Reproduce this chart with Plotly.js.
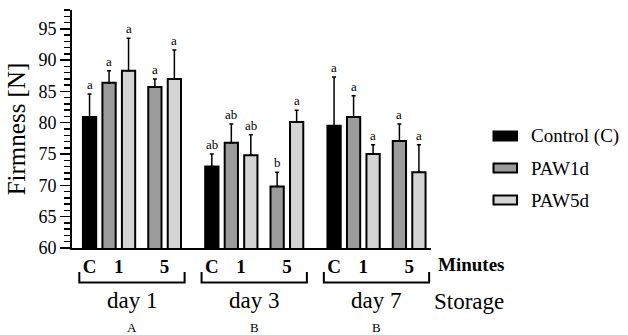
<!DOCTYPE html>
<html>
<head>
<meta charset="utf-8">
<script src="https://cdn.plot.ly/plotly-3.0.1.min.js"></script>
<style>html,body{margin:0;padding:0;background:#fff;}#chart{width:628px;height:335px;}</style>
</head>
<body>
<div id="chart"></div>
<script>
// ---- data ----
const days = ['day 1', 'day 3', 'day 7'];
const dayLetters = ['A', 'B', 'B'];
const minuteLabels = ['C', '1', '5'];
const seriesNames = ['Control (C)', 'PAW1d', 'PAW5d'];

const control      = [80.9, 73.0, 79.5];
const controlErr   = [3.7, 2.0, 7.8];
const controlSig   = ['a', 'ab', 'a'];

const paw1d_min1    = [86.4, 76.8, 80.9];
const paw1d_min1Err = [1.9, 3.0, 3.4];
const paw1d_min1Sig = ['a', 'ab', 'a'];

const paw5d_min1    = [88.3, 74.8, 75.0];
const paw5d_min1Err = [5.2, 3.3, 1.5];
const paw5d_min1Sig = ['a', 'ab', 'a'];

const paw1d_min5    = [85.7, 69.8, 77.1];
const paw1d_min5Err = [1.3, 2.3, 2.7];
const paw1d_min5Sig = ['a', 'b', 'a'];

const paw5d_min5    = [87.0, 80.1, 72.1];
const paw5d_min5Err = [4.6, 1.9, 4.4];
const paw5d_min5Sig = ['a', 'a', 'a'];

const yTickVals = [60, 65, 70, 75, 80, 85, 90, 95];

// ---- layout helpers ----
const DAY_STEP = 6.27;           // x units between day groups
const SLOT = {C: 0, m1a: 1, m1b: 2, m5a: 3.35, m5b: 4.35};
const BAR_W = 0.68;
const colors = ['#000000', '#9b9b9b', '#d4d4d4'];
const FONT = '"Liberation Serif", "Times New Roman", serif';

const L = 72, R = 431, T = 10, B = 248;
const px = v => (v - L) / (R - L);
const py = v => (B - v) / (B - T);

function xs(slot) { return days.map((d, i) => i * DAY_STEP + slot); }
function interleave(a, b) { const o = []; a.forEach((v, i) => { o.push(v); o.push(b[i]); }); return o; }

const ctrlX = xs(SLOT.C);
const p1X = interleave(xs(SLOT.m1a), xs(SLOT.m5a));
const p5X = interleave(xs(SLOT.m1b), xs(SLOT.m5b));
const p1Y = interleave(paw1d_min1, paw1d_min5);
const p5Y = interleave(paw5d_min1, paw5d_min5);
const p1E = interleave(paw1d_min1Err, paw1d_min5Err);
const p5E = interleave(paw5d_min1Err, paw5d_min5Err);
const p1S = interleave(paw1d_min1Sig, paw1d_min5Sig);
const p5S = interleave(paw5d_min1Sig, paw5d_min5Sig);

function barTrace(name, x, y, err, color) {
  return {
    type: 'bar', name: name, x: x, y: y, width: BAR_W,
    marker: {color: color, line: {color: '#000', width: 2}},
    error_y: {type: 'data', symmetric: false, array: err, arrayminus: err.map(() => 0),
              color: '#000', thickness: 1.5, width: 2},
    showlegend: false, hoverinfo: 'x+y'
  };
}

const traces = [
  barTrace(seriesNames[0], ctrlX, control, controlErr, colors[0]),
  barTrace(seriesNames[1], p1X, p1Y, p1E, colors[1]),
  barTrace(seriesNames[2], p5X, p5Y, p5E, colors[2])
];

const annotations = [];
const shapes = [];

// significance letters
[[ctrlX, control, controlErr, controlSig], [p1X, p1Y, p1E, p1S], [p5X, p5Y, p5E, p5S]].forEach(([x, y, e, s]) => {
  x.forEach((xv, i) => {
    annotations.push({x: xv, y: y[i] + e[i], xref: 'x', yref: 'y', text: s[i], showarrow: false,
      xanchor: 'center', yanchor: 'bottom', yshift: 0, font: {family: FONT, size: 13, color: '#000'}});
  });
});

// x tick labels (minutes)
const tickVals = [], tickText = [];
days.forEach((d, i) => {
  const o = i * DAY_STEP;
  tickVals.push(o + SLOT.C, o + (SLOT.m1a + SLOT.m1b) / 2, o + (SLOT.m5a + SLOT.m5b) / 2);
  tickText.push(...minuteLabels);
});

// brackets, day labels, letters
days.forEach((d, i) => {
  const c = i * DAY_STEP + (SLOT.C + SLOT.m5b) / 2;
  const x0 = c - 2.7, x1 = c + 2.7;
  const yl = py(282.5), yt = py(272);
  shapes.push({type: 'path', xref: 'x', yref: 'paper',
    path: `M${x0},${yt} L${x0},${yl} L${x1},${yl} L${x1},${yt}`,
    line: {color: '#000', width: 2}});
  annotations.push({x: c, y: py(300), xref: 'x', yref: 'paper', text: d, showarrow: false,
    xanchor: 'center', yanchor: 'middle', font: {family: FONT, size: 23, color: '#000'}});
  annotations.push({x: c, y: py(327), xref: 'x', yref: 'paper', text: dayLetters[i], showarrow: false,
    xanchor: 'center', yanchor: 'middle', font: {family: FONT, size: 13, color: '#000'}});
});

annotations.push({x: px(436), y: py(264), xref: 'paper', yref: 'paper', text: 'Minutes', showarrow: false,
  xanchor: 'left', yanchor: 'middle', font: {family: FONT, size: 19, color: '#000', weight: 'bold'}});
annotations.push({x: px(432), y: py(301), xref: 'paper', yref: 'paper', text: 'Storage', showarrow: false,
  xanchor: 'left', yanchor: 'middle', font: {family: FONT, size: 23, color: '#000'}});

// custom legend
const legY = [136, 168, 200];
seriesNames.forEach((n, i) => {
  shapes.push({type: 'rect', xref: 'paper', yref: 'paper',
    x0: px(493.5), x1: px(517), y0: py(legY[i] - 4.5), y1: py(legY[i] + 4.5),
    fillcolor: colors[i], line: {color: '#000', width: 2}});
  annotations.push({x: px(529), y: py(legY[i]), xref: 'paper', yref: 'paper', text: n, showarrow: false,
    xanchor: 'left', yanchor: 'middle', font: {family: FONT, size: 19, color: '#000'}});
});

const layout = {
  width: 628, height: 335,
  margin: {l: L, r: 628 - R, t: T, b: 335 - B, pad: 0},
  paper_bgcolor: '#fff', plot_bgcolor: '#fff',
  barmode: 'overlay',
  showlegend: false,
  font: {family: FONT, color: '#000'},
  xaxis: {
    range: [-0.9, -0.9 + (R - L) / 19.5],
    showgrid: false, zeroline: false,
    showline: true, linecolor: '#000', linewidth: 2,
    tickmode: 'array', tickvals: tickVals, ticktext: tickText,
    ticks: '', tickfont: {family: FONT, size: 19, color: '#000', weight: 'bold'},
    fixedrange: true
  },
  yaxis: {
    range: [60, 98],
    showgrid: false, zeroline: false,
    showline: true, linecolor: '#000', linewidth: 2,
    tickmode: 'array', tickvals: yTickVals,
    ticks: 'outside', ticklen: 10, tickwidth: 1.5, tickcolor: '#000',
    minor: {dtick: 1, ticks: 'outside', ticklen: 6, tickwidth: 1.5, tickcolor: '#000', showgrid: false},
    tickfont: {family: FONT, size: 18, color: '#000'},
    title: {text: 'Firmness [N]', font: {family: FONT, size: 25, color: '#000'}, standoff: 6},
    fixedrange: true
  },
  annotations: annotations,
  shapes: shapes
};

Plotly.newPlot('chart', traces, layout, {staticPlot: true, displayModeBar: false});
</script>
</body>
</html>
